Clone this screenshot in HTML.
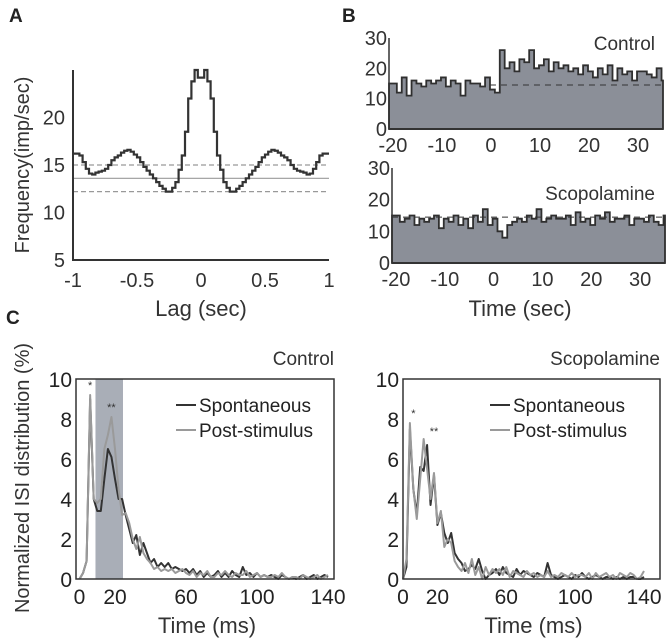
<!DOCTYPE html>
<html><head><meta charset="utf-8"><style>
body{margin:0;background:#fff;}
svg{display:block;font-family:"Liberation Sans",sans-serif;}
</style></head><body>
<svg id="fig" width="672" height="644" viewBox="0 0 672 644"></svg>
<script>
// ---- Panel A data (cross-correlogram, bins of 0.025 s starting at -1) ----
const lagStart = -1;
const lagBinWidth = 0.025;
const lagValues = [16.2,16.2,16.0,15.3,14.6,14.1,14.0,14.2,14.3,14.4,14.6,15.0,15.5,15.8,16.0,16.3,16.5,16.6,16.4,16.1,15.8,15.3,14.8,14.4,14.0,13.6,13.2,12.8,12.5,12.2,12.2,12.6,13.2,14.5,16.0,18.5,22.0,23.8,25.0,24.2,
24.2,25.0,23.8,22.0,18.5,16.0,14.5,13.2,12.6,12.2,12.2,12.5,12.8,13.2,13.6,14.0,14.4,14.8,15.3,15.8,16.1,16.4,16.6,16.5,16.3,16.0,15.8,15.5,15.0,14.6,14.4,14.3,14.2,14.0,14.1,14.6,15.3,16.0,16.2,16.2];
const lagTicksY = [5,10,15,20];
const lagTicksX = [-1,-0.5,0,0.5,1];
const lagRefLines = [15,13.6,12.2];
// ---- Panel B data (1 s bins) ----
const psthStart = -21;
const psthControl = [15,15,12,17,11,16,15,14,16,15,16,17,14,16,15,11,16,15,15,14,17,13,12,26,20,22,19,23,22,26,20,21,23,19,22,20,21,19,20,18,21,19,17,20,18,21,16,20,18,19,16,19,19,18,17,20,16,18];
const psthScopolamine = [15,15,13,14,15,12,14,13,14,15,11,14,13,15,12,14,11,15,13,17,12,14,10,8,12,13,14,13,15,14,17,13,14,15,14,14,15,12,16,13,14,12,15,14,16,13,14,14,15,12,14,14,13,15,13,12,15,11];
const psthBaseline = [14.5,14.5];
const psthTicksX = [-20,-10,0,10,20,30];
const psthTicksY = [0,10,20,30];
// ---- Panel C data (ISI histogram, 2 ms bins) ----
const isiTimes = [0,2,4,6,8,10,12,14,16,18,20,22,24,26,28,30,32,34,36,38,40,42,44,46,48,50,52,54,56,58,60,62,64,66,68,70,72,74,76,78,80,82,84,86,88,90,92,94,96,98,100,102,104,106,108,110,112,114,116,118,120,122,124,126,128,130,132,134,136,138,140];
const ctrlSpont = [0,0.3,0.9,9.0,4.0,3.4,3.4,5.0,6.5,6.1,5.0,4.0,4.0,3.2,2.5,1.8,2.2,1.2,1.8,1.3,0.8,1.0,0.6,0.8,0.6,0.8,0.5,0.6,0.5,0.4,0.5,0.3,0.5,0.2,0.4,0.1,0.3,0.1,0.2,0.4,0.1,0.3,0.1,0.4,0.2,0.1,0.6,0.2,0.3,0.1,0.3,0.1,0.2,0.1,0.2,0.1,0.0,0.2,0.1,0.0,0.1,0.0,0.1,0.2,0.0,0.1,0.2,0.0,0.1,0.2,0.1];
const ctrlPost = [0,0.3,0.9,9.2,4.0,3.8,4.0,6.5,7.2,8.1,6.5,4.5,3.2,3.3,2.8,2.0,1.5,2.1,1.3,1.0,0.8,0.5,0.6,0.4,0.5,0.4,0.5,0.3,0.4,0.5,0.3,0.2,0.4,0.1,0.3,0.2,0.4,0.1,0.1,0.3,0.2,0.4,0.2,0.1,0.3,0.2,0.2,0.4,0.1,0.2,0.3,0.1,0.2,0.1,0.1,0.2,0.1,0.3,0.1,0.0,0.1,0.1,0.0,0.2,0.1,0.0,0.1,0.2,0.0,0.1,0.2];
const scopSpont = [0,0.6,7.5,4.5,3.2,5.6,5.4,6.7,3.7,5.2,2.7,3.3,2.3,1.8,2.3,1.3,1.0,0.8,0.4,0.5,0.7,0.5,1.0,0.4,0.0,0.2,0.3,0.5,0.2,0.6,0.3,0.2,0.1,0.5,0.2,0.4,0.3,0.2,0.1,0.3,0.2,0.1,0.8,0.2,0.1,0.0,0.1,0.2,0.1,0.0,0.2,0.1,0.3,0.1,0.0,0.1,0.2,0.1,0.0,0.1,0.1,0.0,0.1,0.0,0.1,0.0,0.1,0.1,0.0,0.0,0.1];
const scopPost = [0,1.0,7.8,4.5,3.0,5.0,7.0,5.5,4.0,5.3,2.8,3.4,1.6,2.0,1.8,0.9,0.6,0.4,0.8,0.3,1.0,0.2,0.6,0.0,0.6,0.2,0.5,0.3,0.5,0.2,0.6,0.1,0.4,0.3,0.2,0.1,0.4,0.2,0.3,0.1,0.2,0.1,0.4,0.1,0.2,0.1,0.3,0.2,0.1,0.3,0.1,0.2,0.2,0.1,0.3,0.0,0.3,0.1,0.2,0.3,0.1,0.2,0.0,0.3,0.2,0.1,0.3,0.2,0.0,0.1,0.4];
const isiTicksX = [0,20,60,100,140];
const isiTicksY = [0,2,4,6,8,10];
const isiShade = [9,24.5];

const NS='http://www.w3.org/2000/svg';
const svg=document.getElementById('fig');
function el(tag,attrs,parent,text){const e=document.createElementNS(NS,tag);for(const k in attrs)e.setAttribute(k,attrs[k]);if(text!==undefined)e.textContent=text;(parent||svg).appendChild(e);return e;}
function lin(d0,d1,r0,r1){return v=>r0+(v-d0)*(r1-r0)/(d1-d0);}

[['A',9,22],['B',342,22],['C',6,324]].forEach(p=>{
  const t=el('text',{x:p[1],y:p[2],'font-size':19,'font-weight':'bold',fill:'#222'},svg,p[0]);
  
  
});

// ===== Panel A =====
(function(){
  const g=el('g',{});
  
  
  const x=lin(-1,1,73,329), y=lin(5,25,260,70);
  lagRefLines.forEach((v,i)=>{
    const l=el('line',{x1:73,x2:329,y1:y(v),y2:y(v),stroke:'#999','stroke-width':1.2,'stroke-dasharray':i==1?'':'5,3'},g);
    
    
  });
  let d='';
  lagValues.forEach((v,i)=>{const b=lagStart+i*lagBinWidth;const x0=x(b),x1=x(b+lagBinWidth),yy=y(v);d+=(i?'L':'M')+x0+','+yy+'L'+x1+','+yy;});
  const p=el('path',{d:d,fill:'none',stroke:'#333','stroke-width':2.2},g);
  
  
  el('line',{x1:73,x2:73,y1:70,y2:261,stroke:'#333','stroke-width':2},g);
  el('line',{x1:72,x2:329,y1:260,y2:260,stroke:'#333','stroke-width':2},g);
  lagTicksY.forEach(v=>{const t=el('text',{x:65,y:y(v)+7,'font-size':20,'text-anchor':'end',fill:'#333'},g,v);});
  lagTicksX.forEach(v=>{const t=el('text',{x:x(v),y:287,'font-size':20,'text-anchor':'middle',fill:'#333'},g,v);});
  const yl=el('text',{x:0,y:0,'font-size':20,'text-anchor':'middle',fill:'#333',transform:'translate(29,165) rotate(-90)'},g,'Frequency(imp/sec)');
  
  const xl=el('text',{x:201,y:316,'font-size':22,'text-anchor':'middle',fill:'#333'},g,'Lag (sec)');
  
})();

// ===== Panel B =====
function psth(vals,left,right,bottom,top,title,titleY,name,dashFrom){
  const g=el('g',{});
  
  
  const x=lin(-20.6,35.3,left,right), y=lin(0,30,bottom,top);
  let d='M'+left+','+bottom;
  vals.forEach((v,i)=>{const t=psthStart+i;const x0=Math.min(right,Math.max(left,x(t))),x1=Math.min(right,Math.max(left,x(t+1)));if(x1<=x0)return;d+='L'+x0+','+y(v)+'L'+x1+','+y(v);});
  d+='L'+right+','+bottom+'Z';
  const a=el('path',{d:d,fill:'#8b8f98',stroke:'#2f2f2f','stroke-width':1.8},g);
  
  const bl=el('line',{x1:x(dashFrom),x2:right,y1:y(psthBaseline[0]),y2:y(psthBaseline[1]),stroke:'#333','stroke-width':1,'stroke-dasharray':'6,5'},g);
  
  el('line',{x1:left,x2:left,y1:top,y2:bottom,stroke:'#333','stroke-width':1.5},g);
  el('line',{x1:left,x2:right,y1:bottom,y2:bottom,stroke:'#333','stroke-width':2},g);
  psthTicksY.forEach(v=>{const t=el('text',{x:left-2,y:y(v)+7,'font-size':20,'text-anchor':'end',fill:'#333'},g,v);});
  psthTicksX.forEach(v=>{const t=el('text',{x:x(v)+1,y:bottom+23,'font-size':20,'text-anchor':'middle',fill:'#333'},g,v);});
  const tt=el('text',{x:655,y:titleY,'font-size':19,'text-anchor':'end',fill:'#333'},g,title);
  
}
psth(psthControl,389,663,129,38,'Control',50,'panel-b-control',0);
psth(psthScopolamine,392,665,263,168,'Scopolamine',200,'panel-b-scopolamine',-20.6);
(function(){const t=el('text',{x:520,y:316,'font-size':22,'text-anchor':'middle',fill:'#333'},svg,'Time (sec)');
})();

// ===== Panel C =====
function isi(spont,post,left,right,x0px,x140px,title,shade,name,legX){
  const g=el('g',{});
  
  
  const x=lin(0,140,x0px,x140px), y=lin(0,10,579,379);
  if(shade){const r=el('rect',{x:x(shade[0]),y:379,width:x(shade[1])-x(shade[0]),height:200,fill:'#a9aeb7'},g);}
  [[spont,'#333','spontaneous-line'],[post,'#9a9a9a','post-stimulus-line']].forEach(s=>{
    const d=s[0].map((v,i)=>(i?'L':'M')+x(isiTimes[i])+','+y(v)).join('');
    const p=el('path',{d:d,fill:'none',stroke:s[1],'stroke-width':2,'stroke-linejoin':'round'},g);
    
  });
  el('rect',{x:left,y:379,width:right-left,height:200,fill:'none',stroke:'#333','stroke-width':1.5},g);
  isiTicksY.forEach(v=>{const t=el('text',{x:left-4,y:y(v)+8,'font-size':21,'text-anchor':'end',fill:'#222'},g,v);});
  isiTicksX.forEach(v=>{const t=el('text',{x:x(v),y:604,'font-size':21,'text-anchor':'middle',fill:'#222'},g,v);});
  const xt=el('text',{x:(left+right)/2+2,y:633,'font-size':22,'text-anchor':'middle',fill:'#333'},g,'Time (ms)');
  
  const tt=el('text',{x:right,y:365,'font-size':19,'text-anchor':'end',fill:'#333'},g,title);
  
  [['Spontaneous','#333',412],['Post-stimulus','#9a9a9a',437]].forEach(e=>{
    const lg=el('g',{},g);
    
    el('line',{x1:legX,x2:legX+20,y1:e[2]-7,y2:e[2]-7,stroke:e[1],'stroke-width':2},lg);
    el('text',{x:legX+23,y:e[2],'font-size':19,fill:'#222'},lg,e[0]);
  });
  return {x,y,g};
}
const cl=isi(ctrlSpont,ctrlPost,76,334,79.5,328,'Control',isiShade,'panel-c-control',176);
const cr=isi(scopSpont,scopPost,403,660,403,644,'Scopolamine',null,'panel-c-scopolamine',490);
[[cl,6,9.5,'*'],[cl,18,8.4,'**'],[cr,6,8.1,'*'],[cr,18,7.2,'**']].forEach(s=>{
  const t=el('text',{x:s[0].x(s[1]),y:s[0].y(s[2]),'font-size':11,'text-anchor':'middle',fill:'#333'},s[0].g,s[3]);
  
});
(function(){const t=el('text',{x:0,y:0,'font-size':20,'text-anchor':'middle',fill:'#333',transform:'translate(29,478) rotate(-90)'},svg,'Normalized ISI distribution (%)');
})();
</script>
</body></html>
